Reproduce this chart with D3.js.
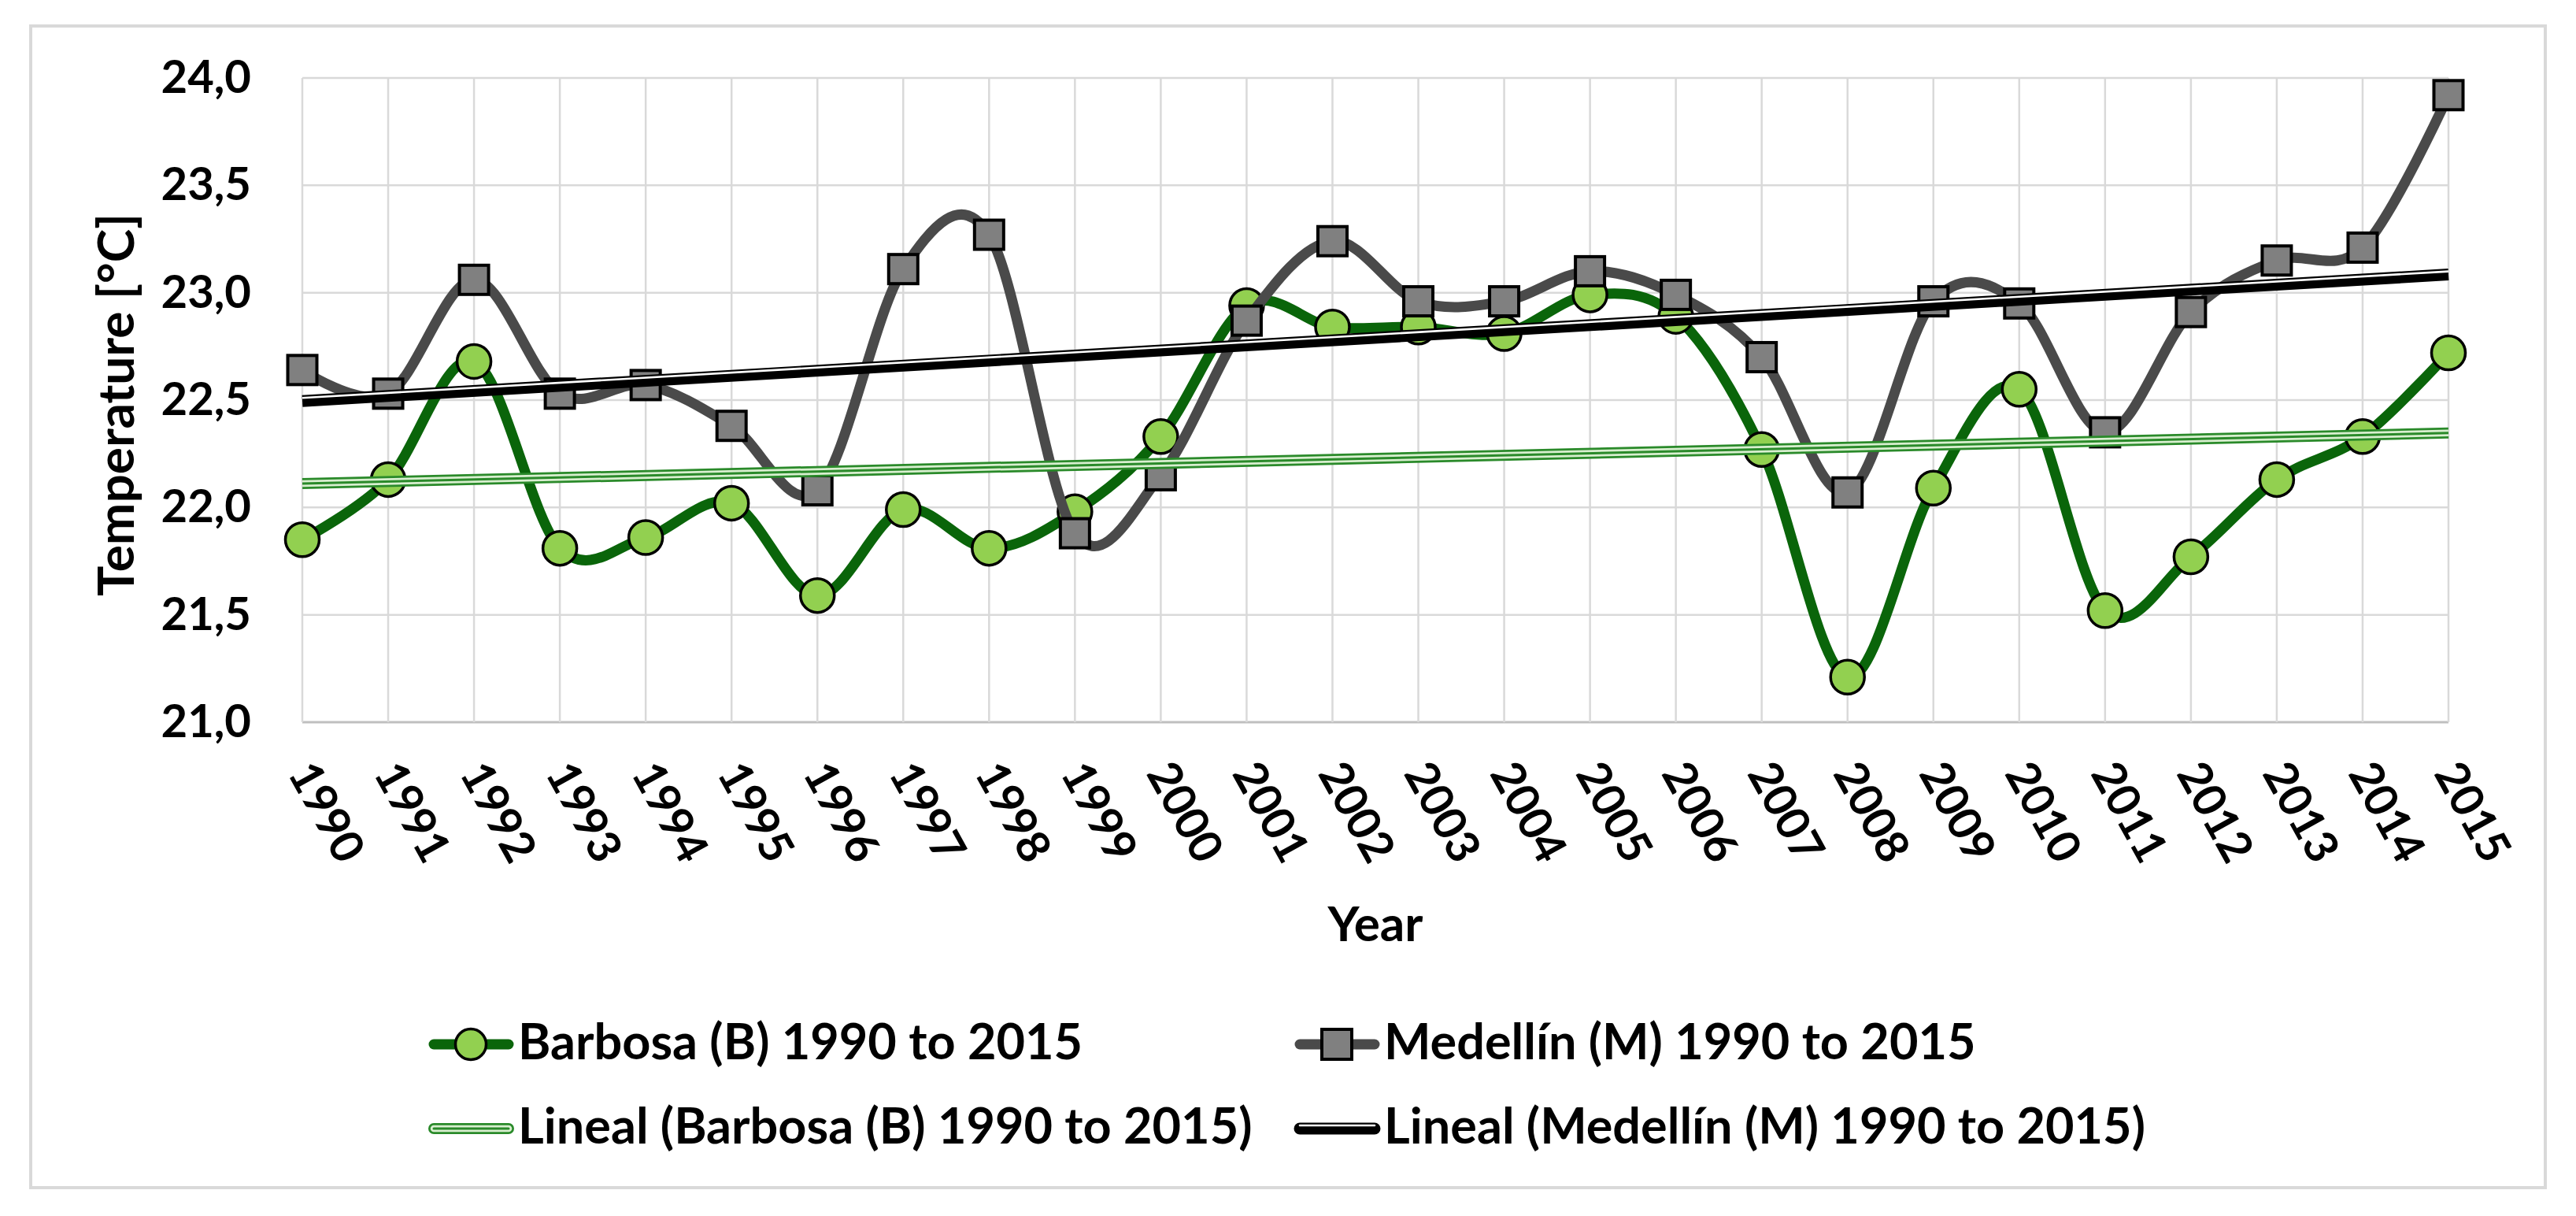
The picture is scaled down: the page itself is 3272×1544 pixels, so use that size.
<!DOCTYPE html>
<html>
<head>
<meta charset="utf-8">
<script src="https://cdn.jsdelivr.net/npm/d3@7"></script>
<style>
  body { margin: 0; background: #fff; }
  text { font-family: Lato, "Open Sans", sans-serif; font-weight: bold; fill: #000; }
</style>
</head>
<body>
<svg width="3272" height="1544"></svg>
<script>
// values
const years = [1990, 1991, 1992, 1993, 1994, 1995, 1996, 1997, 1998, 1999, 2000, 2001, 2002,
               2003, 2004, 2005, 2006, 2007, 2008, 2009, 2010, 2011, 2012, 2013, 2014, 2015];
const barbosa = [21.85, 22.13, 22.68, 21.81, 21.86, 22.02, 21.59, 21.99, 21.81, 21.98, 22.33, 22.94, 22.84,
                 22.84, 22.81, 22.99, 22.89, 22.27, 21.21, 22.09, 22.55, 21.52, 21.77, 22.13, 22.33, 22.72];
const medellin = [22.64, 22.53, 23.06, 22.53, 22.57, 22.38, 22.08, 23.11, 23.27, 21.88, 22.15, 22.87, 23.24,
                  22.96, 22.96, 23.10, 22.99, 22.70, 22.07, 22.96, 22.95, 22.35, 22.91, 23.15, 23.21, 23.92];
const yTicks = [21.0, 21.5, 22.0, 22.5, 23.0, 23.5, 24.0];
const legendNames = ['Barbosa (B) 1990 to 2015', 'Medellín (M) 1990 to 2015',
                     'Lineal (Barbosa (B) 1990 to 2015)', 'Lineal (Medellín (M) 1990 to 2015)'];

const svg = d3.select('svg');
svg.append('rect').attr('width', 3272).attr('height', 1544).attr('fill', '#fff');
svg.append('rect')
  .attr('x', 39).attr('y', 33).attr('width', 3194).attr('height', 1475)
  .attr('fill', 'none').attr('stroke', '#d9d9d9').attr('stroke-width', 4);

const plotL = 384, plotR = 3110, plotT = 99, plotB = 917;
const x = d3.scaleLinear().domain([1990, 2015]).range([plotL, plotR]);
const y = d3.scaleLinear().domain([21, 24]).range([plotB, plotT]);

const greenLine = '#0a650a', greyLine = '#4a4a4a';

// grid
const grid = svg.append('g');
grid.selectAll('.hg').data(yTicks).enter().append('line')
  .attr('x1', plotL).attr('x2', plotR)
  .attr('y1', d => y(d)).attr('y2', d => y(d))
  .attr('stroke', d => d === 21 ? '#bfbfbf' : '#d9d9d9')
  .attr('stroke-width', d => d === 21 ? 3 : 2.5);
grid.selectAll('.vg').data(years).enter().append('line')
  .attr('x1', d => x(d)).attr('x2', d => x(d))
  .attr('y1', plotT).attr('y2', plotB)
  .attr('stroke', '#d9d9d9').attr('stroke-width', 2.5);

// axes
const yAxis = d3.axisLeft(y).tickValues(yTicks)
  .tickFormat(d => d.toFixed(1).replace('.', ','))
  .tickSize(0).tickPadding(65);
const yAxisGroup = svg.append('g').attr('transform', `translate(${plotL},0)`).call(yAxis);
yAxisGroup.select('.domain').remove();
yAxisGroup.selectAll('text').attr('font-size', 58).attr('font-family', null).attr('fill', null);

const xAxis = d3.axisBottom(x).tickValues(years).tickFormat(d3.format('d')).tickSize(0);
const xAxisGroup = svg.append('g').attr('transform', `translate(0,${plotB})`).call(xAxis);
xAxisGroup.select('.domain').remove();
xAxisGroup.selectAll('text')
  .attr('font-size', 58).attr('font-family', null).attr('fill', null)
  .attr('y', 0).attr('dy', null)
  .attr('text-anchor', 'start')
  .attr('dominant-baseline', 'central')
  .attr('transform', 'translate(0,54) rotate(61)');

svg.append('text').attr('x', 1747).attr('y', 1195)
  .attr('text-anchor', 'middle').attr('font-size', 62).text('Year');
svg.append('text')
  .attr('transform', `translate(170,${(plotT + plotB) / 2 + 6}) rotate(-90)`)
  .attr('text-anchor', 'middle').attr('font-size', 64).text('Temperature [°C]');

// series
const smooth = d3.line().x((d, i) => x(years[i])).y(d => y(d)).curve(d3.curveCardinal.tension(0));

svg.append('path').attr('d', smooth(barbosa))
  .attr('fill', 'none').attr('stroke', greenLine).attr('stroke-width', 13);
svg.selectAll('.bc').data(barbosa).enter().append('circle')
  .attr('cx', (d, i) => x(years[i])).attr('cy', d => y(d)).attr('r', 21.5)
  .attr('fill', '#92d050').attr('stroke', '#000').attr('stroke-width', 3.5);

svg.append('path').attr('d', smooth(medellin))
  .attr('fill', 'none').attr('stroke', greyLine).attr('stroke-width', 13);
svg.selectAll('.ms').data(medellin).enter().append('rect')
  .attr('x', (d, i) => x(years[i]) - 18.5).attr('y', d => y(d) - 18.5)
  .attr('width', 37).attr('height', 37)
  .attr('fill', '#808080').attr('stroke', '#000').attr('stroke-width', 4);

// linear trends (least squares, as Excel's "Lineal")
function fit(vals) {
  const mx = d3.mean(years), my = d3.mean(vals);
  const b = d3.sum(years, (t, i) => (t - mx) * (vals[i] - my)) / d3.sum(years, t => (t - mx) ** 2);
  return t => my + b * (t - mx);
}
const trendB = fit(barbosa), trendM = fit(medellin);
const ends = d3.extent(years);
const straight = f => d3.line().x(t => x(t)).y(t => y(f(t)))(ends);

function greenTrend(g, d, caps) {
  g.append('path').attr('d', d).attr('fill', 'none').attr('stroke', '#2a8a2a').attr('stroke-width', 14).attr('stroke-linecap', caps);
  g.append('path').attr('d', d).attr('fill', 'none').attr('stroke', '#d9efd0').attr('stroke-width', 8.5).attr('stroke-linecap', caps);
  g.append('path').attr('d', d).attr('fill', 'none').attr('stroke', '#2a8a2a').attr('stroke-width', 3).attr('stroke-linecap', caps);
}
function blackTrend(g, d, caps) {
  g.append('path').attr('d', d).attr('fill', 'none').attr('stroke', '#000').attr('stroke-width', 15).attr('stroke-linecap', caps);
  g.append('path').attr('d', d).attr('fill', 'none').attr('stroke', '#fff').attr('stroke-width', 2.6)
    .attr('transform', 'translate(0,-4)').attr('stroke-linecap', caps);
}
greenTrend(svg.append('g'), straight(trendB), 'butt');
blackTrend(svg.append('g'), straight(trendM), 'butt');

// legend
const legendPos = [[546, 1326], [1646, 1326], [546, 1433], [1646, 1433]];
const legend = svg.append('g');
legendNames.forEach((name, i) => {
  const [lx, ly] = legendPos[i];
  const g = legend.append('g');
  const seg = `M${lx + 5},${ly}L${lx + 100},${ly}`;
  if (i === 0) {
    g.append('path').attr('d', seg).attr('stroke', greenLine).attr('stroke-width', 13).attr('stroke-linecap', 'round');
    g.append('circle').attr('cx', lx + 52).attr('cy', ly).attr('r', 19.5)
      .attr('fill', '#92d050').attr('stroke', '#000').attr('stroke-width', 3.5);
  } else if (i === 1) {
    g.append('path').attr('d', seg).attr('stroke', greyLine).attr('stroke-width', 13).attr('stroke-linecap', 'round');
    g.append('rect').attr('x', lx + 33).attr('y', ly - 19).attr('width', 38).attr('height', 38)
      .attr('fill', '#808080').attr('stroke', '#000').attr('stroke-width', 4);
  } else if (i === 2) {
    greenTrend(g, seg, 'round');
  } else {
    blackTrend(g, seg, 'round');
  }
  g.append('text').attr('x', lx + 112).attr('y', ly + 19)
    .attr('font-size', 63).text(name);
});
</script>
</body>
</html>
